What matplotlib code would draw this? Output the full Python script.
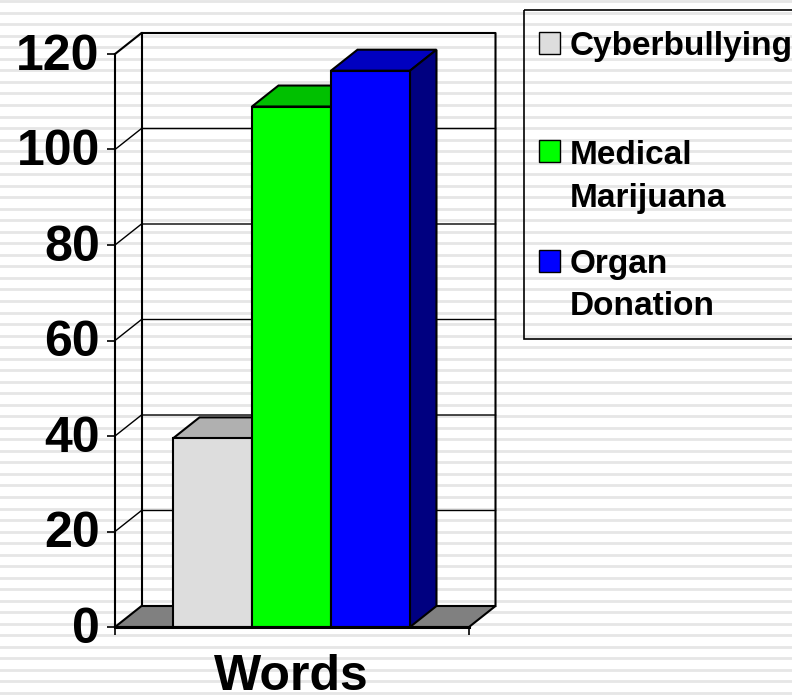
import matplotlib
matplotlib.use('Agg')
import matplotlib.pyplot as plt
from matplotlib.patches import Polygon, Rectangle
from matplotlib.transforms import ScaledTranslation

plt.rcParams['font.family'] = ['Liberation Sans', 'DejaVu Sans']
plt.rcParams['font.weight'] = 'bold'

categories = ['Cyberbullying', 'Medical\nMarijuana', 'Organ\nDonation']
values = [39.5, 109, 116.5]
front_colors = ['#dddddd', '#00ff00', '#0000ff']
top_colors = ['#b0b0b0', '#00c000', '#0000c0']
side_colors = ['#a0a0a0', '#008000', '#000080']
yticks = [0, 20, 40, 60, 80, 100, 120]
group_label = 'Words'

W, H = 792, 700
fig = plt.figure(figsize=(W / 100, H / 100), dpi=100, facecolor='white')

# background stripes + legend, in pixels
bg = fig.add_axes([0, 0, 1, 1], zorder=0)
bg.set_xlim(0, W)
bg.set_ylim(H, 0)
bg.axis('off')
y = 1.2
while y < H:
    bg.axhline(y, color='#e6e6e6', lw=2.0, zorder=0)
    y += 11.53

# main chart, front plane 115..469 x 54..627 px
x0, x1, ytop, ybot = 115, 469, 54, 627
ax = fig.add_axes([x0 / W, 1 - ybot / H, (x1 - x0) / W, (ybot - ytop) / H], zorder=1)
ax.patch.set_alpha(0)
ax.set_xlim(-1.234, 3.247)
ax.set_ylim(0, 120)
dx = 26.5 / 79
dy = 21 / 4.775
xl, xr = ax.get_xlim()
lw = 1.5

# walls, gridlines
for v in yticks[1:-1]:
    ax.plot([xl, xl + dx, xr + dx], [v, v + dy, v + dy], color='black', lw=1.0, clip_on=False, zorder=1)
ax.add_patch(Polygon([(xl, 0), (xl + dx, dy), (xr + dx, dy), (xr, 0)], closed=True,
                     facecolor='#808080', edgecolor='black', lw=lw, clip_on=False, zorder=2))
ax.plot([xl, xl + dx, xr + dx, xr + dx], [120, 120 + dy, 120 + dy, dy], color='black', lw=lw, clip_on=False, zorder=1)
ax.plot([xl + dx, xl + dx], [dy, 120 + dy], color='black', lw=lw, clip_on=False, zorder=1)

# bars
xs = list(range(len(values)))
for i in xs:
    left, right, v = xs[i] - 0.5, xs[i] + 0.5, values[i]
    ax.add_patch(Polygon([(left, v), (left + dx, v + dy), (right + dx, v + dy), (right, v)], closed=True,
                         facecolor=top_colors[i], edgecolor='black', lw=lw, clip_on=False, zorder=3 + i))
    ax.add_patch(Polygon([(right, 0), (right + dx, dy), (right + dx, v + dy), (right, v)], closed=True,
                         facecolor=side_colors[i], edgecolor='black', lw=lw, clip_on=False, zorder=3 + i))
    ax.bar(xs[i], v, width=1, color=front_colors[i], edgecolor='black', lw=lw, clip_on=False, zorder=3 + i)

for s in ['top', 'right']:
    ax.spines[s].set_visible(False)
ax.spines['left'].set_linewidth(lw)
ax.spines['bottom'].set_linewidth(2.2)
ax.spines['bottom'].set_zorder(10)
ax.set_yticks(yticks)
ax.set_yticklabels([str(v) for v in yticks], fontsize=36, fontweight='bold')
ax.set_xticks([xl, xr])
ax.set_xticklabels(['', ''])
ax.tick_params(axis='both', length=5.5, width=1.2, color='black')
ax.tick_params(axis='y', pad=5.5)
shift = ScaledTranslation(0, 1.5 / 72, fig.dpi_scale_trans)
for lab in ax.get_yticklabels():
    lab.set_transform(lab.get_transform() + shift)
bg.text(291, 677, group_label, fontsize=36, fontweight='bold', ha='center', va='center')

# legend box
bg.add_patch(Polygon([(523.5, 9.5), (800, 9.5), (800, 338.5), (523.5, 338.5)], closed=True,
                     facecolor='none', edgecolor='black', lw=1.2, clip_on=True, zorder=2))
swatch_y = [32, 140, 250]
text_y = [46, 177, 285.5]
for i in xs:
    bg.add_patch(Rectangle((538.5, swatch_y[i]), 21, 22, facecolor=front_colors[i], edgecolor='black', lw=1.0, zorder=2))
    bg.text(570, text_y[i], categories[i], fontsize=24, fontweight='bold', ha='left', va='center',
            linespacing=1.49, zorder=3)

fig.savefig('out.png', dpi=100)
